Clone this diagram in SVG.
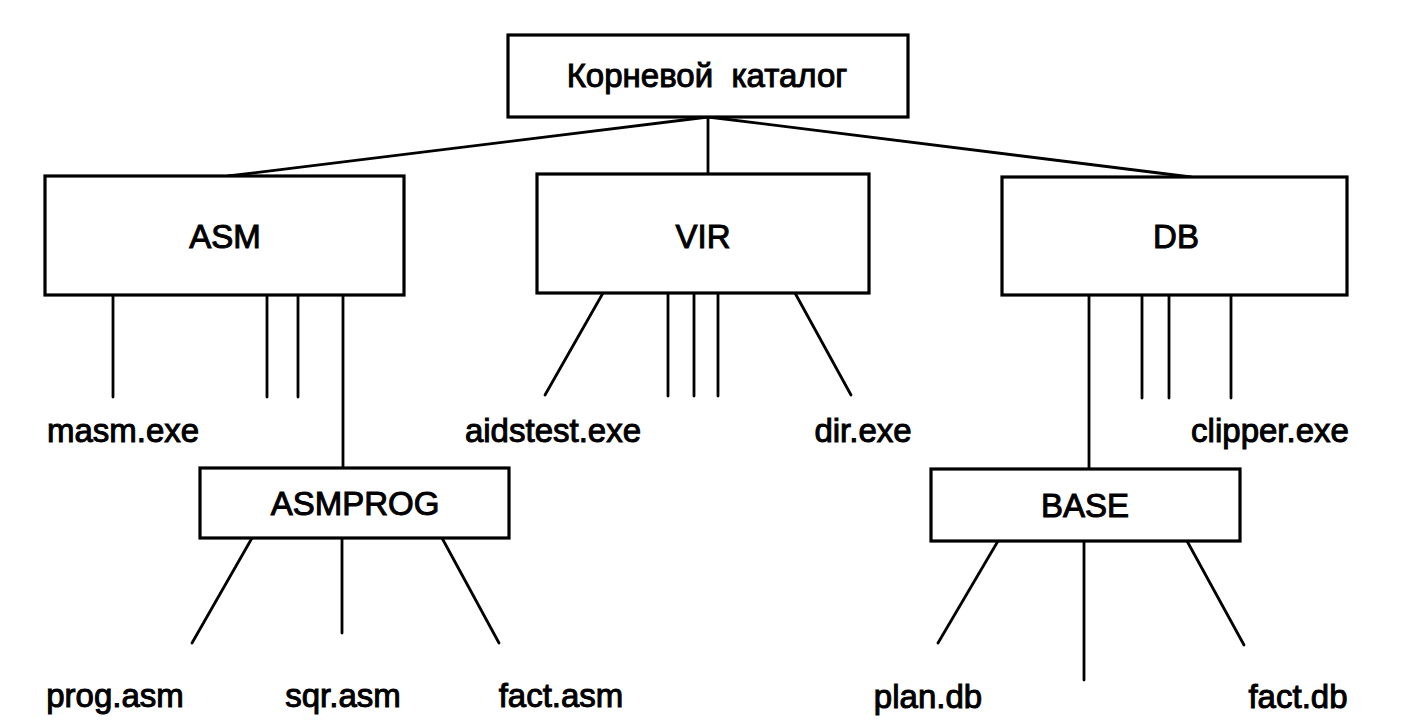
<svg xmlns="http://www.w3.org/2000/svg" width="1407" height="727" viewBox="0 0 1407 727">
<style>
  .box { fill: #fff; stroke: #000; stroke-width: 3.2; }
  .lbl { font-family: "Liberation Sans", Arial, sans-serif; font-size: 33px; fill: #000; stroke: #000; stroke-width: 1; text-anchor: middle; }
  .cn line { stroke: #000; stroke-width: 2.8; stroke-linecap: round; }
</style>
<rect width="1407" height="727" fill="#fff"/>
<g id="connectors" class="cn">
  <line x1="708" y1="117" x2="228" y2="176"/>
  <line x1="708" y1="117" x2="708" y2="174"/>
  <line x1="708" y1="117" x2="1191" y2="177"/>
  <line x1="113" y1="295" x2="113" y2="397"/>
  <line x1="267" y1="295" x2="267" y2="397"/>
  <line x1="298" y1="295" x2="298" y2="397"/>
  <line x1="343" y1="295" x2="343" y2="468"/>
  <line x1="603" y1="293" x2="545" y2="395"/>
  <line x1="668" y1="293" x2="668" y2="396"/>
  <line x1="694" y1="293" x2="694" y2="396"/>
  <line x1="718" y1="293" x2="718" y2="396"/>
  <line x1="795" y1="293" x2="851" y2="395"/>
  <line x1="1089" y1="295" x2="1089" y2="469"/>
  <line x1="1142" y1="295" x2="1142" y2="398"/>
  <line x1="1169" y1="295" x2="1169" y2="398"/>
  <line x1="1231" y1="295" x2="1231" y2="398"/>
  <line x1="252" y1="538" x2="192" y2="643"/>
  <line x1="342" y1="538" x2="342" y2="633"/>
  <line x1="442" y1="538" x2="499" y2="643"/>
  <line x1="998" y1="541" x2="938" y2="643"/>
  <line x1="1084" y1="541" x2="1084" y2="680"/>
  <line x1="1187" y1="541" x2="1244" y2="645"/>
</g>
<g id="root">
  <rect class="box" x="508" y="35" width="400" height="82"/>
  <text class="lbl" x="707" y="87" xml:space="preserve">Корневой  каталог</text>
</g>
<g id="asm">
  <rect class="box" x="45" y="176" width="359" height="119"/>
  <text class="lbl" x="225" y="248">ASM</text>
</g>
<g id="vir">
  <rect class="box" x="537" y="174" width="332" height="119"/>
  <text class="lbl" x="703" y="248">VIR</text>
</g>
<g id="db">
  <rect class="box" x="1002" y="177" width="345" height="118"/>
  <text class="lbl" x="1176" y="248">DB</text>
</g>
<g id="asmprog">
  <rect class="box" x="200" y="468" width="309" height="70"/>
  <text class="lbl" x="355" y="515">ASMPROG</text>
</g>
<g id="base">
  <rect class="box" x="931" y="469" width="309" height="72"/>
  <text class="lbl" x="1085" y="517">BASE</text>
</g>
<g id="masm"><text class="lbl" x="123" y="442">masm.exe</text></g>
<g id="aidstest"><text class="lbl" x="553" y="442">aidstest.exe</text></g>
<g id="direxe"><text class="lbl" x="863" y="442">dir.exe</text></g>
<g id="clipper"><text class="lbl" x="1270" y="442">clipper.exe</text></g>
<g id="prog"><text class="lbl" x="115" y="707">prog.asm</text></g>
<g id="sqr"><text class="lbl" x="343" y="707">sqr.asm</text></g>
<g id="factasm"><text class="lbl" x="561" y="707">fact.asm</text></g>
<g id="plan"><text class="lbl" x="928" y="708">plan.db</text></g>
<g id="factdb"><text class="lbl" x="1298" y="708">fact.db</text></g>
</svg>
